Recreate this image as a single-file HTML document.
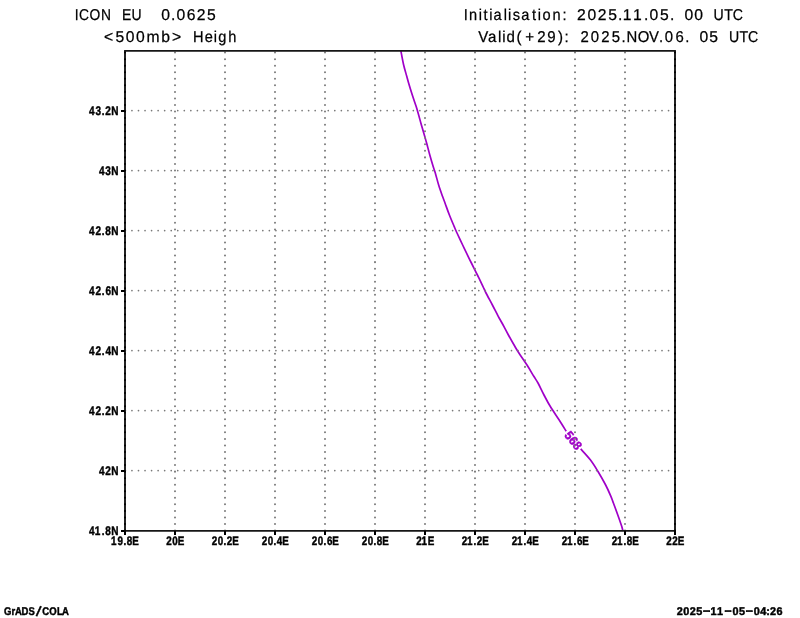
<!DOCTYPE html>
<html><head><meta charset="utf-8"><title>ICON EU 500mb Height</title>
<style>html,body{margin:0;padding:0;background:#fff;width:800px;height:618px;overflow:hidden}svg{display:block;will-change:transform}text{font-family:"Liberation Sans",Arial,sans-serif;text-rendering:geometricPrecision}</style>
</head><body>
<svg width="800" height="618" viewBox="0 0 800 618">
<g fill="none" stroke="#a000c8" stroke-width="1.7" stroke-linejoin="round"><path d="M400.90,51.00 C401.36,53.33 402.67,60.78 403.65,65.00 C404.63,69.22 405.94,73.30 406.76,76.30 C407.58,79.30 407.68,79.88 408.60,83.00 C409.52,86.12 411.05,91.12 412.30,95.00 C413.55,98.88 415.13,103.30 416.10,106.30 C417.07,109.30 417.22,109.88 418.10,113.00 C418.98,116.12 420.30,121.12 421.40,125.00 C422.50,128.88 423.83,133.30 424.70,136.30 C425.57,139.30 425.75,139.88 426.60,143.00 C427.45,146.12 428.72,151.12 429.80,155.00 C430.88,158.88 432.18,163.30 433.10,166.30 C434.02,169.30 434.38,169.88 435.30,173.00 C436.23,176.12 437.45,181.12 438.65,185.00 C439.85,188.88 441.44,193.30 442.50,196.30 C443.56,199.30 443.85,199.88 445.00,203.00 C446.15,206.12 447.88,211.12 449.40,215.00 C450.92,218.88 452.83,223.30 454.10,226.30 C455.37,229.30 455.57,229.88 457.00,233.00 C458.43,236.12 460.80,241.12 462.65,245.00 C464.50,248.88 466.64,253.30 468.10,256.30 C469.56,259.30 469.85,259.88 471.40,263.00 C472.95,266.12 475.48,271.12 477.40,275.00 C479.32,278.88 481.47,283.30 482.90,286.30 C484.33,289.30 484.42,289.88 486.00,293.00 C487.58,296.12 490.36,301.12 492.40,305.00 C494.44,308.88 496.65,313.30 498.25,316.30 C499.85,319.30 500.31,319.88 502.00,323.00 C503.69,326.12 506.27,331.12 508.40,335.00 C510.53,338.88 513.05,343.30 514.80,346.30 C516.55,349.30 516.87,349.88 518.90,353.00 C520.93,356.12 524.52,361.12 527.00,365.00 C529.48,368.88 531.97,373.30 533.80,376.30 C535.63,379.30 536.30,379.88 538.00,383.00 C539.70,386.12 541.97,391.12 544.00,395.00 C546.03,398.88 547.67,402.13 550.20,406.30 C552.73,410.47 556.53,415.83 559.20,420.00 C561.87,424.17 565.03,429.42 566.20,431.30"/><path d="M580.70,448.90 C582.33,450.75 587.62,456.23 590.50,460.00 C593.38,463.77 595.48,467.33 598.00,471.50 C600.52,475.67 603.50,480.87 605.65,485.00 C607.80,489.13 609.61,493.30 610.90,496.30 C612.19,499.30 612.25,499.88 613.40,503.00 C614.55,506.12 616.42,511.12 617.80,515.00 C619.18,518.88 620.85,523.63 621.70,526.30 C622.55,528.97 622.70,530.22 622.90,531.00"/></g>
<text x="0" y="0" font-size="12.5" font-weight="bold" fill="#a000c8" stroke="#a000c8" stroke-width="0.45" text-anchor="middle" textLength="19.6" lengthAdjust="spacingAndGlyphs" transform="translate(573.3,440.5) rotate(51) translate(0,4.3)">568</text>
<g stroke="#7a7a7a" stroke-width="2" stroke-linecap="round" fill="none"><line x1="175" y1="531" x2="175" y2="51" stroke-dasharray="0.01 6.537" stroke-dashoffset="-0.445"/><line x1="225" y1="531" x2="225" y2="51" stroke-dasharray="0.01 6.537" stroke-dashoffset="-0.445"/><line x1="275" y1="531" x2="275" y2="51" stroke-dasharray="0.01 6.537" stroke-dashoffset="-0.445"/><line x1="325" y1="531" x2="325" y2="51" stroke-dasharray="0.01 6.537" stroke-dashoffset="-0.445"/><line x1="375" y1="531" x2="375" y2="51" stroke-dasharray="0.01 6.537" stroke-dashoffset="-0.445"/><line x1="425" y1="531" x2="425" y2="51" stroke-dasharray="0.01 6.537" stroke-dashoffset="-0.445"/><line x1="475" y1="531" x2="475" y2="51" stroke-dasharray="0.01 6.537" stroke-dashoffset="-0.445"/><line x1="525" y1="531" x2="525" y2="51" stroke-dasharray="0.01 6.537" stroke-dashoffset="-0.445"/><line x1="575" y1="531" x2="575" y2="51" stroke-dasharray="0.01 6.537" stroke-dashoffset="-0.445"/><line x1="625" y1="531" x2="625" y2="51" stroke-dasharray="0.01 6.537" stroke-dashoffset="-0.445"/><line x1="125" y1="470.6" x2="675" y2="470.6" stroke-width="1.7" stroke-dasharray="0.01 6.534" stroke-dashoffset="-0.395"/><line x1="125" y1="410.6" x2="675" y2="410.6" stroke-width="1.7" stroke-dasharray="0.01 6.534" stroke-dashoffset="-0.395"/><line x1="125" y1="350.6" x2="675" y2="350.6" stroke-width="1.7" stroke-dasharray="0.01 6.534" stroke-dashoffset="-0.395"/><line x1="125" y1="290.6" x2="675" y2="290.6" stroke-width="1.7" stroke-dasharray="0.01 6.534" stroke-dashoffset="-0.395"/><line x1="125" y1="230.6" x2="675" y2="230.6" stroke-width="1.7" stroke-dasharray="0.01 6.534" stroke-dashoffset="-0.395"/><line x1="125" y1="170.6" x2="675" y2="170.6" stroke-width="1.7" stroke-dasharray="0.01 6.534" stroke-dashoffset="-0.395"/><line x1="125" y1="110.6" x2="675" y2="110.6" stroke-width="1.7" stroke-dasharray="0.01 6.534" stroke-dashoffset="-0.395"/></g>
<g stroke-linecap="round"><line x1="125" y1="50.9" x2="125" y2="530.9" stroke="#222" stroke-width="2"/><line x1="675" y1="50.9" x2="675" y2="530.9" stroke="#222" stroke-width="2"/><line x1="125" y1="50.9" x2="675" y2="50.9" stroke="#161616" stroke-width="1.8"/><line x1="125" y1="530.9" x2="675" y2="530.9" stroke="#161616" stroke-width="1.8"/></g>
<g stroke="#000" stroke-width="2" stroke-linecap="round" fill="none"><line x1="125" y1="531" x2="125" y2="51" stroke-dasharray="0.01 6.537" stroke-dashoffset="-0.445"/><line x1="675" y1="531" x2="675" y2="51" stroke-dasharray="0.01 6.537" stroke-dashoffset="-0.445"/></g>
<g stroke="#000" stroke-width="2"><line x1="121" y1="531" x2="125" y2="531"/><line x1="121" y1="471" x2="125" y2="471"/><line x1="121" y1="411" x2="125" y2="411"/><line x1="121" y1="351" x2="125" y2="351"/><line x1="121" y1="291" x2="125" y2="291"/><line x1="121" y1="231" x2="125" y2="231"/><line x1="121" y1="171" x2="125" y2="171"/><line x1="121" y1="111" x2="125" y2="111"/><line x1="125" y1="531" x2="125" y2="535"/><line x1="175" y1="531" x2="175" y2="535"/><line x1="225" y1="531" x2="225" y2="535"/><line x1="275" y1="531" x2="275" y2="535"/><line x1="325" y1="531" x2="325" y2="535"/><line x1="375" y1="531" x2="375" y2="535"/><line x1="425" y1="531" x2="425" y2="535"/><line x1="475" y1="531" x2="475" y2="535"/><line x1="525" y1="531" x2="525" y2="535"/><line x1="575" y1="531" x2="575" y2="535"/><line x1="625" y1="531" x2="625" y2="535"/><line x1="675" y1="531" x2="675" y2="535"/></g>
<text transform="scale(0.8000,1)" x="111.38 118.56 127.25 131.61 139.14" y="535.10" font-size="12.5" font-weight="bold" fill="#000" stroke="#000" stroke-width="0.45">41.8N</text>
<text transform="scale(0.8000,1)" x="123.61 131.65 139.14" y="475.10" font-size="12.5" font-weight="bold" fill="#000" stroke="#000" stroke-width="0.45">42N</text>
<text transform="scale(0.8000,1)" x="111.38 119.42 127.25 131.65 139.14" y="415.10" font-size="12.5" font-weight="bold" fill="#000" stroke="#000" stroke-width="0.45">42.2N</text>
<text transform="scale(0.8000,1)" x="111.38 119.42 127.25 131.76 139.14" y="355.10" font-size="12.5" font-weight="bold" fill="#000" stroke="#000" stroke-width="0.45">42.4N</text>
<text transform="scale(0.8000,1)" x="111.38 119.42 127.25 131.81 139.14" y="295.10" font-size="12.5" font-weight="bold" fill="#000" stroke="#000" stroke-width="0.45">42.6N</text>
<text transform="scale(0.8000,1)" x="111.38 119.42 127.25 131.61 139.14" y="235.10" font-size="12.5" font-weight="bold" fill="#000" stroke="#000" stroke-width="0.45">42.8N</text>
<text transform="scale(0.8000,1)" x="123.61 131.70 139.14" y="175.10" font-size="12.5" font-weight="bold" fill="#000" stroke="#000" stroke-width="0.45">43N</text>
<text transform="scale(0.8000,1)" x="111.38 119.47 127.25 131.65 139.14" y="115.10" font-size="12.5" font-weight="bold" fill="#000" stroke="#000" stroke-width="0.45">43.2N</text>
<text transform="scale(0.8000,1)" x="138.77 146.93 154.49 158.42 165.32" y="545.00" font-size="12.3" font-weight="bold" fill="#000" stroke="#000" stroke-width="0.45">19.8E</text>
<text transform="scale(0.8000,1)" x="207.75 215.28 222.15" y="545.00" font-size="12.3" font-weight="bold" fill="#000" stroke="#000" stroke-width="0.45">20E</text>
<text transform="scale(0.8000,1)" x="264.59 272.11 279.49 283.46 290.32" y="545.00" font-size="12.3" font-weight="bold" fill="#000" stroke="#000" stroke-width="0.45">20.2E</text>
<text transform="scale(0.8000,1)" x="327.09 334.61 341.99 346.06 352.82" y="545.00" font-size="12.3" font-weight="bold" fill="#000" stroke="#000" stroke-width="0.45">20.4E</text>
<text transform="scale(0.8000,1)" x="389.59 397.11 404.49 408.62 415.32" y="545.00" font-size="12.3" font-weight="bold" fill="#000" stroke="#000" stroke-width="0.45">20.6E</text>
<text transform="scale(0.8000,1)" x="452.09 459.61 466.99 470.92 477.82" y="545.00" font-size="12.3" font-weight="bold" fill="#000" stroke="#000" stroke-width="0.45">20.8E</text>
<text transform="scale(0.8000,1)" x="520.25 526.99 534.65" y="545.00" font-size="12.3" font-weight="bold" fill="#000" stroke="#000" stroke-width="0.45">21E</text>
<text transform="scale(0.8000,1)" x="577.09 583.82 591.99 595.96 602.82" y="545.00" font-size="12.3" font-weight="bold" fill="#000" stroke="#000" stroke-width="0.45">21.2E</text>
<text transform="scale(0.8000,1)" x="639.59 646.32 654.49 658.56 665.32" y="545.00" font-size="12.3" font-weight="bold" fill="#000" stroke="#000" stroke-width="0.45">21.4E</text>
<text transform="scale(0.8000,1)" x="702.09 708.82 716.99 721.12 727.82" y="545.00" font-size="12.3" font-weight="bold" fill="#000" stroke="#000" stroke-width="0.45">21.6E</text>
<text transform="scale(0.8000,1)" x="764.59 771.32 779.49 783.42 790.32" y="545.00" font-size="12.3" font-weight="bold" fill="#000" stroke="#000" stroke-width="0.45">21.8E</text>
<text transform="scale(0.8000,1)" x="832.75 840.30 847.15" y="545.00" font-size="12.3" font-weight="bold" fill="#000" stroke="#000" stroke-width="0.45">22E</text>
<text transform="scale(0.8800,1)" x="84.92 89.65 101.64 114.69" y="20" font-size="15.7" stroke="#000" stroke-width="0.25">ICON</text>
<text transform="scale(0.8900,1)" x="137.11 147.81" y="20" font-size="15.7" stroke="#000" stroke-width="0.25">EU</text>
<text transform="scale(1.0000,1)" x="161.14 170.96 176.40 186.78 196.75 206.94" y="20" font-size="15.7" stroke="#000" stroke-width="0.25">0.0625</text>
<text transform="scale(1.0000,1)" x="104.04 115.50 125.69 135.89 146.46 161.22 171.88" y="42" font-size="15.7" stroke="#000" stroke-width="0.25">&lt;500mb&gt;</text>
<text transform="scale(0.9300,1)" x="207.63 220.10 229.95 234.74 245.39" y="42" font-size="15.7" stroke="#000" stroke-width="0.25">Heigh</text>
<text transform="scale(0.9300,1)" x="498.79 504.32 514.69 519.91 526.14 530.63 541.59 546.18 551.22 560.40 572.02 578.25 583.35 594.22 604.72" y="20" font-size="15.7" stroke="#000" stroke-width="0.25">Initialisation:</text>
<text transform="scale(1.0000,1)" x="577.01 587.39 597.76 608.14 618.09 622.69 633.07 644.02 649.62 660.00 669.95" y="20" font-size="15.7" stroke="#000" stroke-width="0.25">2025.11.05.</text>
<text transform="scale(1.0000,1)" x="684.47 694.30" y="20" font-size="15.7" stroke="#000" stroke-width="0.25">00</text>
<text transform="scale(0.9000,1)" x="792.84 804.60 814.21" y="20" font-size="15.7" stroke="#000" stroke-width="0.25">UTC</text>
<text transform="scale(0.9600,1)" x="498.16 508.35 518.80 523.09 527.61 538.12 547.04 559.58 570.03 581.32 588.01" y="42" font-size="15.7" stroke="#000" stroke-width="0.25">Valid(+29):</text>
<text transform="scale(0.9500,1)" x="611.00 621.97 632.94 643.92 654.31 659.60 671.23 683.07 693.80 699.84 711.03 721.22" y="42" font-size="15.7" stroke="#000" stroke-width="0.25">2025.NOV.06.</text>
<text transform="scale(1.0000,1)" x="699.62 709.16" y="42" font-size="15.7" stroke="#000" stroke-width="0.25">05</text>
<text transform="scale(0.9000,1)" x="810.12 821.74 831.21" y="42" font-size="15.7" stroke="#000" stroke-width="0.25">UTC</text>
<text transform="scale(0.8500,1)" x="4.59 13.61 17.53 25.23 33.58 42.05 49.80 58.00 66.97 72.83" y="614.50 614.50 614.50 614.50 614.50 615.58 614.50 614.50 614.50 614.50" rotate="0 0 0 0 0 17 0 0 0 0" font-size="11.2" font-weight="bold" fill="#000" stroke="#000" stroke-width="0.45">GrADS<tspan font-size="14.6">/</tspan>COLA</text>
<text transform="scale(0.9700,1)" x="697.81 704.45 711.14 717.76 724.60 732.41 739.07 746.59 755.11 761.75 768.59 777.11 783.88 790.01 793.79 800.59" y="614.70 614.70 614.70 614.70 613.70 614.70 614.70 613.70 614.70 614.70 613.70 614.70 614.70 614.70 614.70 614.70" font-size="11.2" font-weight="bold" fill="#000" stroke="#000" stroke-width="0.45">2025<tspan textLength="7.91" lengthAdjust="spacingAndGlyphs">-</tspan>11<tspan textLength="7.91" lengthAdjust="spacingAndGlyphs">-</tspan>05<tspan textLength="7.91" lengthAdjust="spacingAndGlyphs">-</tspan>04:26</text>
</svg>
</body></html>
